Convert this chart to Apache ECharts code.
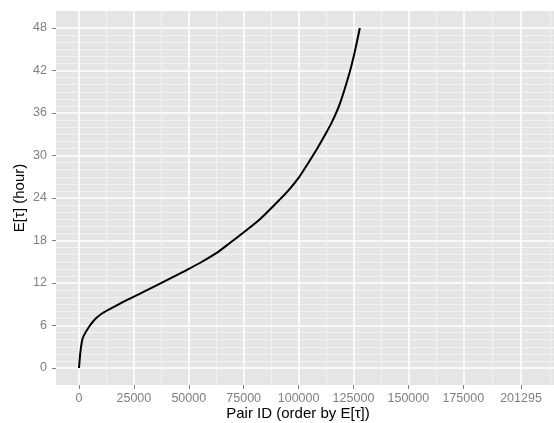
<!DOCTYPE html>
<html>
<head>
<meta charset="utf-8">
<script src="https://cdn.jsdelivr.net/npm/echarts@6/dist/echarts.min.js"></script>
<style>
  html, body { margin: 0; padding: 0; background: #ffffff; }
  #chart { width: 554px; height: 423px; }
</style>
</head>
<body>
<div id="chart"></div>
<script>
// Pairs sorted by expected waiting time E[tau]
const pairId = [
  0, 400, 770, 1200, 1680, 2500, 3500, 5000, 6500, 8000, 11000, 15500,
  21500, 27800, 36900, 44500, 49800, 56000, 62700, 68700, 74800, 82400,
  91500, 96000, 99900, 103700, 108700, 111300, 115000, 118900, 123400, 125700, 127900
];
const expectedTau = [
  0, 1.5, 2.6, 3.5, 4.2, 4.75, 5.3, 6.0, 6.6, 7.1, 7.8, 8.55,
  9.55, 10.5, 11.9, 13.1, 13.95, 15.0, 16.25, 17.65, 19.1, 21.0,
  23.8, 25.3, 26.8, 28.6, 31.1, 32.5, 34.6, 37.4, 41.9, 44.8, 48.0
];

// Axis breaks
const xTicks = [0, 25000, 50000, 75000, 100000, 125000, 150000, 175000, 201295];
const xMinorTicks = [12500, 37500, 62500, 87500, 112500, 137500, 162500, 188147.5, 214442.5];
const yTicks = [0, 6, 12, 18, 24, 30, 36, 42, 48];
const yMinorTicks = [
  1, 2, 3, 4, 5, 7, 8, 9, 10, 11, 13, 14, 15, 16, 17, 19, 20, 21, 22, 23,
  25, 26, 27, 28, 29, 31, 32, 33, 34, 35, 37, 38, 39, 40, 41, 43, 44, 45, 46, 47
];

const FONT = 'Liberation Sans, Arial, Helvetica, sans-serif';
const X_MIN = -10470, X_MAX = 216320;
const Y_MIN = -2.4, Y_MAX = 50.4;

const chart = echarts.init(document.getElementById('chart'), null, { renderer: 'canvas' });

const minorAxis = (values) => ({
  axisLine: { show: false, onZero: false },
  axisTick: { show: false, customValues: values },
  axisLabel: { show: false, customValues: values },
  splitLine: { show: true, lineStyle: { color: '#f2f2f2', width: 1 } }
});

chart.setOption({
  animation: false,
  backgroundColor: '#ffffff',
  grid: {
    left: 56, right: 0, top: 11, bottom: 38,
    outerBoundsMode: 'none',
    containLabel: false,
    show: true, backgroundColor: '#e5e5e5', borderWidth: 0
  },
  xAxis: [
    Object.assign({ type: 'value', min: X_MIN, max: X_MAX, position: 'bottom' }, minorAxis(xMinorTicks)),
    {
      type: 'value', min: X_MIN, max: X_MAX, position: 'bottom',
      name: 'Pair ID (order by E[\u03c4])',
      nameLocation: 'middle', nameGap: 21, nameMoveOverlap: false,
      nameTextStyle: { color: '#000000', fontSize: 15, fontFamily: FONT, padding: [0, 14, 0, 0] },
      axisLine: { show: false, onZero: false },
      axisTick: { show: true, customValues: xTicks, length: 4, lineStyle: { color: '#7f7f7f', width: 1 } },
      axisLabel: {
        customValues: xTicks, color: '#7f7f7f', fontSize: 12.5, fontFamily: FONT, margin: 7,
        formatter: (v) => String(v)
      },
      splitLine: { show: true, lineStyle: { color: '#ffffff', width: 1.5 } }
    }
  ],
  yAxis: [
    Object.assign({ type: 'value', min: Y_MIN, max: Y_MAX, position: 'left' }, minorAxis(yMinorTicks)),
    {
      type: 'value', min: Y_MIN, max: Y_MAX, position: 'left',
      name: 'E[\u03c4] (hour)',
      nameLocation: 'middle', nameGap: 29, nameRotate: 90, nameMoveOverlap: false,
      nameTextStyle: { color: '#000000', fontSize: 15, fontFamily: FONT },
      axisLine: { show: false, onZero: false },
      axisTick: { show: true, customValues: yTicks, length: 4, lineStyle: { color: '#7f7f7f', width: 1 } },
      axisLabel: {
        customValues: yTicks, color: '#7f7f7f', fontSize: 12.5, fontFamily: FONT, margin: 9,
        formatter: (v) => String(v)
      },
      splitLine: { show: true, lineStyle: { color: '#ffffff', width: 1.5 } }
    }
  ],
  series: [{
    type: 'line',
    xAxisIndex: 1,
    yAxisIndex: 1,
    data: pairId.map((x, i) => [x, expectedTau[i]]),
    showSymbol: false,
    smooth: 0.25,
    lineStyle: { color: '#000000', width: 2 },
    z: 5
  }]
});
</script>
</body>
</html>
